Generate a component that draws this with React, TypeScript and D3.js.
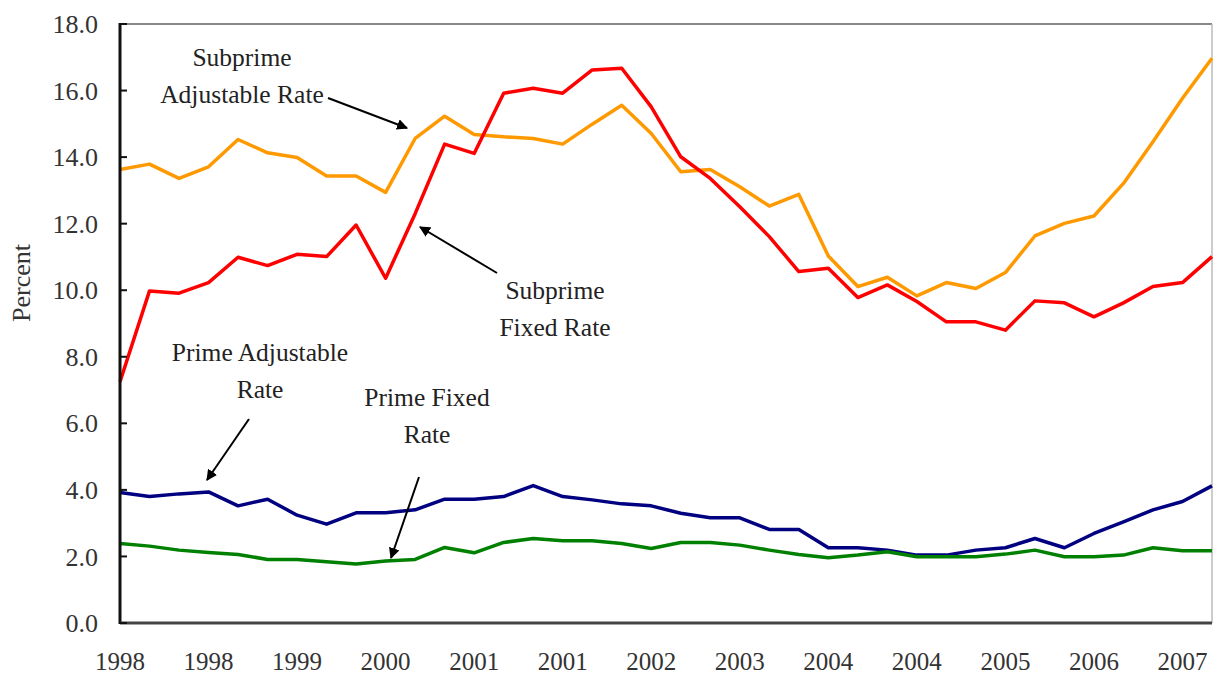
import React from "react";
import * as d3 from "d3";

const xLabels = ["1998", "1998", "1999", "2000", "2001", "2001", "2002", "2003", "2004", "2004", "2005", "2006", "2007"];
const xLabelEvery = 3;

const subprimeAdjustable = [13.63, 13.79, 13.36, 13.71, 14.53, 14.13, 13.99, 13.43, 13.43, 12.94, 14.56, 15.23, 14.68, 14.61, 14.56, 14.39, 14.99, 15.56, 14.71, 13.56, 13.63, 13.11, 12.53, 12.88, 11.03, 10.11, 10.39, 9.83, 10.23, 10.05, 10.53, 11.63, 12.01, 12.23, 13.21, 14.46, 15.77, 16.97];
const subprimeFixed = [7.25, 9.98, 9.91, 10.23, 10.99, 10.74, 11.08, 11.01, 11.96, 10.36, 12.3, 14.39, 14.11, 15.92, 16.07, 15.92, 16.62, 16.67, 15.51, 14.01, 13.36, 12.51, 11.61, 10.56, 10.66, 9.78, 10.16, 9.66, 9.05, 9.05, 8.8, 9.68, 9.62, 9.2, 9.62, 10.11, 10.23, 11.01];
const primeAdjustable = [3.92, 3.8, 3.88, 3.94, 3.52, 3.72, 3.24, 2.97, 3.31, 3.31, 3.4, 3.72, 3.72, 3.8, 4.13, 3.8, 3.7, 3.58, 3.52, 3.3, 3.16, 3.16, 2.81, 2.81, 2.26, 2.26, 2.19, 2.04, 2.04, 2.19, 2.26, 2.54, 2.26, 2.69, 3.04, 3.4, 3.65, 4.12];
const primeFixed = [2.39, 2.31, 2.19, 2.12, 2.06, 1.91, 1.91, 1.84, 1.77, 1.86, 1.91, 2.27, 2.11, 2.42, 2.54, 2.47, 2.47, 2.39, 2.24, 2.42, 2.42, 2.34, 2.19, 2.06, 1.96, 2.04, 2.14, 1.99, 1.99, 1.99, 2.07, 2.19, 1.99, 1.99, 2.04, 2.26, 2.17, 2.17];

const yTicks = [0, 2, 4, 6, 8, 10, 12, 14, 16, 18];

const series = [
  { name: "Subprime Adjustable Rate", values: subprimeAdjustable, color: "#FF9900" },
  { name: "Subprime Fixed Rate", values: subprimeFixed, color: "#FF0000" },
  { name: "Prime Adjustable Rate", values: primeAdjustable, color: "#000080" },
  { name: "Prime Fixed Rate", values: primeFixed, color: "#008000" },
];

const W = 1214;
const H = 677;
const left = 120;
const right = 1212;
const top = 24;
const bottom = 623;

const font = "'Liberation Serif', 'Times New Roman', serif";

export default function App() {
  const n = subprimeAdjustable.length;
  const x = d3.scaleLinear().domain([0, n - 1]).range([left, right]);
  const y = d3.scaleLinear().domain([0, 18]).range([bottom, top]);
  const fmt = d3.format(".1f");
  const line = d3
    .line<number>()
    .x((_, i) => x(i))
    .y((d) => y(d));

  const annotations = [
    { lines: ["Subprime", "Adjustable Rate"], cx: 242, y0: 66, arrow: [328, 98, 407, 128] },
    { lines: ["Subprime", "Fixed Rate"], cx: 555, y0: 299, arrow: [497, 273, 420, 227] },
    { lines: ["Prime Adjustable", "Rate"], cx: 260, y0: 361, arrow: [249, 419, 207, 480] },
    { lines: ["Prime Fixed", "Rate"], cx: 427, y0: 406, arrow: [419, 477, 391, 558] },
  ];

  return (
    <svg
      width={W}
      height={H}
      style={{ position: "absolute", left: 0, top: 0, display: "block", background: "#fff" }}
      fontFamily={font}
    >
      <defs>
        <marker id="ah" viewBox="0 0 10 10" refX="9" refY="5" markerWidth="5.5" markerHeight="5.5" orient="auto">
          <path d="M0,0 L10,5 L0,10 z" fill="#000" />
        </marker>
      </defs>
      {/* frame */}
      <line x1={left} x2={right} y1={top} y2={top} stroke="#888" strokeWidth={2} />
      <line x1={right} x2={right} y1={top} y2={bottom} stroke="#bbb" strokeWidth={1.5} />

      {/* series */}
      {series.map((s) => (
        <path key={s.name} d={line(s.values) || ""} fill="none" stroke={s.color} strokeWidth={3.5} strokeLinejoin="round" />
      ))}

      {/* axes */}
      <line x1={left} x2={left} y1={top - 1} y2={bottom + 1} stroke="#111" strokeWidth={3} />
      <line x1={left} x2={right} y1={bottom} y2={bottom} stroke="#444" strokeWidth={3} />
      {yTicks.map((t) => (
        <g key={t}>
          <line x1={left} x2={left + 7} y1={y(t)} y2={y(t)} stroke="#111" strokeWidth={2} />
          <text x={98} y={y(t)} dy="0.35em" textAnchor="end" fontSize={26} fill="#333">
            {fmt(t)}
          </text>
        </g>
      ))}
      {xLabels.map((l, i) => (
        <text key={i} x={x(i * xLabelEvery)} y={670} textAnchor="middle" fontSize={25} fill="#333">
          {l}
        </text>
      ))}
      <text transform={`translate(30,283) rotate(-90)`} textAnchor="middle" fontSize={26} fill="#333">
        Percent
      </text>

      {/* annotations */}
      {annotations.map((a, k) => (
        <g key={k}>
          {a.lines.map((t, j) => (
            <text key={j} x={a.cx} y={a.y0 + j * 37} textAnchor="middle" fontSize={25.5} fill="#222">
              {t}
            </text>
          ))}
          <line
            x1={a.arrow[0]}
            y1={a.arrow[1]}
            x2={a.arrow[2]}
            y2={a.arrow[3]}
            stroke="#000"
            strokeWidth={2}
            markerEnd="url(#ah)"
          />
        </g>
      ))}
    </svg>
  );
}
